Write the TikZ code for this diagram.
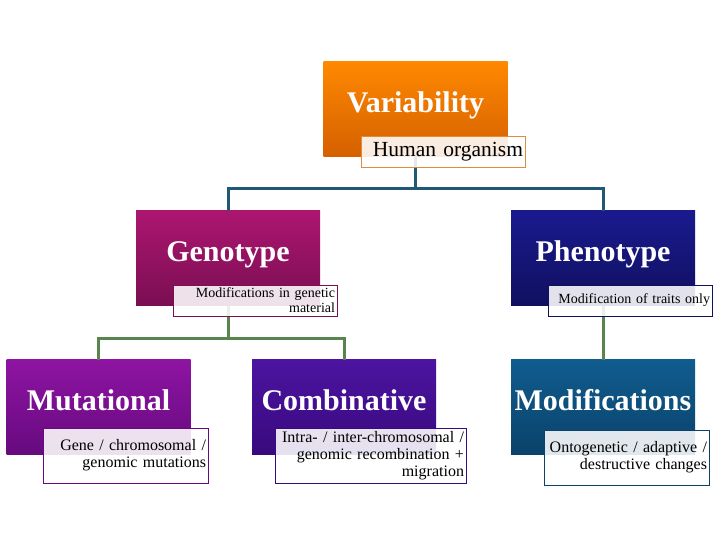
\documentclass[tikz,border=0pt]{standalone}
\usepackage{fontspec}
\setmainfont{Liberation Serif}
\usepackage{tikz}
\usetikzlibrary{
	positioning,
	calc
}
\definecolor{VarTop}{RGB}{255,136,0}
\definecolor{VarBottom}{RGB}{212,96,0}
\definecolor{VarEdge}{RGB}{225,140,60}
\definecolor{GenoTop}{RGB}{172,22,112}
\definecolor{GenoBottom}{RGB}{122,14,82}
\definecolor{PhenoTop}{RGB}{26,26,142}
\definecolor{PhenoBottom}{RGB}{16,16,96}
\definecolor{MutTop}{RGB}{142,20,162}
\definecolor{MutBottom}{RGB}{102,10,126}
\definecolor{CombTop}{RGB}{76,20,160}
\definecolor{CombBottom}{RGB}{56,10,126}
\definecolor{ModTop}{RGB}{16,92,142}
\definecolor{ModBottom}{RGB}{10,66,106}
\definecolor{TealLink}{RGB}{32,88,118}
\definecolor{GreenLink}{RGB}{88,132,78}

\begin{document}
\begin{tikzpicture}[x=1pt, y=1pt,
		box/.style={minimum width=184pt, minimum height=95pt, inner sep=0pt, text=white,
			font=\fontsize{30}{36}\selectfont\bfseries, text height=20pt, text depth=13pt},
		tag/.style={draw, line width=0.8pt, fill=white, fill opacity=0.88, text opacity=1,
			inner xsep=2pt, inner ysep=0pt, align=right, text=black},
		smalltag/.style={tag, minimum height=31pt, font=\fontsize{14}{15}\selectfont},
		lowtag/.style={tag, minimum height=55pt, font=\fontsize{16}{17}\selectfont},
		tealbus/.style={line width=3pt, TealLink},
		greenbus/.style={line width=3pt, GreenLink}
	]
			\useasboundingbox (0,0) rectangle (720,540);
			% boxes
			\node[box, top color=VarTop, bottom color=VarBottom] (var) at (415.5,430.5) {Variability};
			\node[box, top color=GenoTop, bottom color=GenoBottom] (geno) at (228,281.5) {Genotype};
			\node[box, top color=PhenoTop, bottom color=PhenoBottom] (pheno) at (603,281.5) {Phenotype};
			\node[box, top color=MutTop, bottom color=MutBottom] (mut) at (98.5,132.5) {Mutational};
			\node[box, top color=CombTop, bottom color=CombBottom] (comb) at (344,132.5) {Combinative};
			\node[box, top color=ModTop, bottom color=ModBottom] (modi) at (603,132.5) {Modifications};
			% connectors
			\draw[tealbus] (var.south) -- ++(0,-31) coordinate (vjoint) -| (geno.north);
			\draw[tealbus] (vjoint) -| (pheno.north);
			\draw[greenbus] (geno.south) -- ++(0,-32) coordinate (gjoint) -| (mut.north);
			\draw[greenbus] (gjoint) -| (comb.north);
			\draw[greenbus] (pheno.south) -- (modi.north);
			% labels
			\node[tag, draw=VarEdge, text width=160pt, minimum height=31pt,
				font=\fontsize{21.5}{24}\selectfont] (vartag) at (443,388.5) {Human organism};
			\node[smalltag, draw=GenoBottom, text width=160pt] (genotag) at (255,239.5) {Modifications in genetic\\material};
			\node[smalltag, draw=PhenoBottom, text width=160pt] (phenotag) at (630,239.5) {Modification of traits only};
			\node[lowtag, draw=MutBottom, text width=161pt] (muttag) at (125.5,84.5) {Gene / chromosomal /\\genomic mutations};
			\node[lowtag, draw=CombBottom, text width=187pt] (combtag) at (370.5,84.5) {Intra- / inter-chromosomal /\\genomic recombination +\\migration};
			\node[lowtag, draw=ModBottom, text width=161pt] (moditag) at (626.5,82.5) {Ontogenetic / adaptive /\\destructive changes};
		\end{tikzpicture}
\end{document}
